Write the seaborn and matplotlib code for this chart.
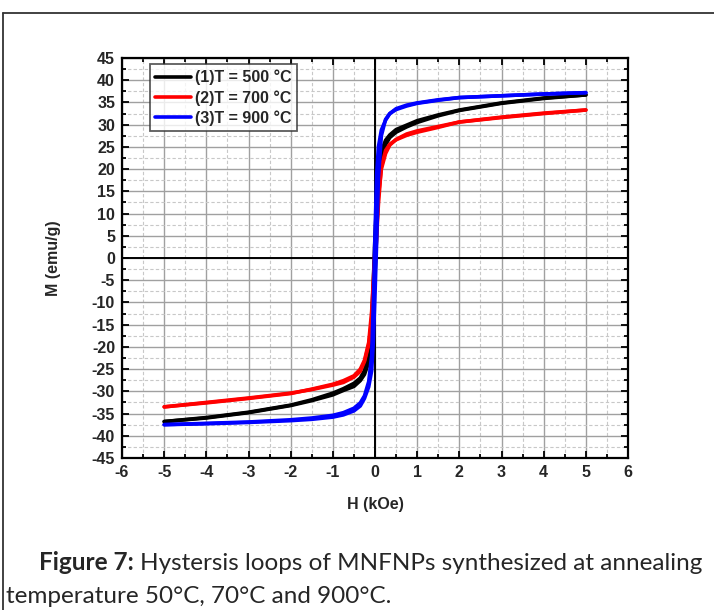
import pandas as pd
import matplotlib.pyplot as plt
import seaborn as sns
from matplotlib.ticker import MultipleLocator
from matplotlib.lines import Line2D


# field values (kOe), same grid for every branch
H = [-5, -4, -3, -2, -1.5, -1, -0.75, -0.5, -0.35, -0.25, -0.15, -0.08, -0.04,
     0, 0.04, 0.08, 0.15, 0.25, 0.35, 0.5, 0.75, 1, 1.5, 2, 3, 4, 5]

# lower branch (field going up) and upper branch (field going down)
M_500_up = [-36.8, -36.0, -34.8, -33.2, -32.1, -30.8, -29.8, -28.9, -27.6, -26.2, -23.5, -19.0, -12.0,
            -4.0, 6.0, 15.0, 21.5, 25.5, 27.1, 28.3, 29.5, 30.5, 32.0, 33.2, 34.8, 35.9, 36.7]
M_500_down = [-36.8, -35.9, -34.7, -33.1, -31.9, -30.4, -29.4, -28.2, -27.0, -25.3, -21.0, -14.0, -5.0,
              5.0, 13.0, 20.0, 24.0, 26.5, 27.7, 28.9, 29.9, 30.9, 32.2, 33.3, 34.9, 36.0, 36.7]

M_700_up = [-33.5, -32.5, -31.5, -30.4, -29.6, -28.6, -28.0, -26.8, -25.5, -23.3, -19.5, -14.0, -8.0,
            -2.0, 5.0, 12.0, 20.5, 24.2, 25.6, 26.6, 27.6, 28.3, 29.4, 30.6, 31.7, 32.6, 33.3]
M_700_down = [-33.5, -32.6, -31.6, -30.5, -29.5, -28.4, -27.6, -26.5, -25.0, -23.0, -19.0, -12.0, -5.0,
              2.0, 8.0, 14.0, 20.0, 23.5, 25.4, 26.7, 27.9, 28.6, 29.6, 30.6, 31.6, 32.5, 33.3]

M_900_up = [-37.5, -37.3, -37.0, -36.6, -36.3, -35.8, -35.3, -34.4, -33.3, -31.6, -29.0, -25.4, -19.0,
            -8.0, 4.0, 18.0, 27.5, 31.2, 32.5, 33.4, 34.2, 34.8, 35.5, 36.1, 36.5, 36.9, 37.2]
M_900_down = [-37.5, -37.2, -36.9, -36.4, -36.0, -35.4, -34.8, -33.8, -32.6, -31.0, -27.8, -22.0, -10.0,
              6.0, 19.0, 25.0, 28.8, 31.0, 32.5, 33.6, 34.4, 34.9, 35.6, 36.1, 36.5, 36.9, 37.2]

labels = ['(1)T = 500 °C', '(2)T = 700 °C', '(3)T = 900 °C']
colors = ['black', '#ff0000', '#0000ff']

caption_bold = 'Figure 7:'
caption_1 = 'Hystersis loops of MNFNPs synthesized at annealing'
caption_2 = 'temperature 50°C, 70°C and 900°C.'

branches = [(M_500_up, M_500_down), (M_700_up, M_700_down), (M_900_up, M_900_down)]

rows = []
for lab, (up, down) in zip(labels, branches):
    for h, m in zip(H, up):
        rows.append([h, m, lab, lab + ' up'])
    # the descending branch runs from +5 back to -5
    for h, m in zip(H[::-1], down[::-1]):
        rows.append([h, m, lab, lab + ' down'])
loops_df = pd.DataFrame(rows, columns=['H', 'M', 'sample', 'branch'])


sns.set_style('white')
plt.rcParams['font.family'] = ['Liberation Sans', 'DejaVu Sans']
plt.rcParams['axes.unicode_minus'] = False

fig = plt.figure(figsize=(7.14, 6.10), dpi=100)
ax = fig.add_axes([0.1709, 0.2492, 0.7087, 0.6557])

ax.set_xlim(-6, 6)
ax.set_ylim(-45, 45)

ax.xaxis.set_major_locator(MultipleLocator(1))
ax.xaxis.set_minor_locator(MultipleLocator(0.5))
ax.yaxis.set_major_locator(MultipleLocator(5))
ax.yaxis.set_minor_locator(MultipleLocator(2.5))

ax.grid(which='major', color='#a0a0a0', lw=1.0, ls='-', zorder=0)
ax.grid(which='minor', color='#c8c8c8', lw=0.8, ls=(0, (3, 2)), zorder=0)
ax.axhline(0, color='black', lw=1.4, zorder=1)
ax.axvline(0, color='black', lw=1.4, zorder=1)

sns.lineplot(
    data=loops_df,
    x='H',
    y='M',
    hue='sample',
    units='branch',
    estimator=None,
    sort=False,
    palette=colors,
    lw=2.6,
    legend=False,
    ax=ax,
    zorder=3
)

for sp in ax.spines.values():
    sp.set_color('black')
    sp.set_linewidth(1.6)

ax.tick_params(which='both', direction='in', top=True, right=True,
               bottom=True, left=True, color='black', width=1.3)
ax.tick_params(which='major', length=5, labelsize=11.5, pad=5)
ax.tick_params(which='minor', length=3)
ax.tick_params(axis='x', which='both', labeltop=False)
for t in ax.get_xticklabels() + ax.get_yticklabels():
    t.set_fontweight('bold')

ax.set_xlabel('H (kOe)', fontsize=11.5, fontweight='bold', labelpad=12)
ax.set_ylabel('M (emu/g)', fontsize=11.5, fontweight='bold', labelpad=22)

handles = [Line2D([0], [0], color=c, lw=2.6) for c in colors]
leg = ax.legend(handles, labels, loc='upper left', bbox_to_anchor=(0.055, 0.985),
                prop={'weight': 'bold', 'size': 11.5}, frameon=True, fancybox=False,
                handlelength=2.2, handletextpad=0.25, borderpad=0.35, labelspacing=0.3,
                borderaxespad=0)
leg.get_frame().set_edgecolor('#333333')
leg.get_frame().set_linewidth(1.3)

# page frame around figure and caption (left and top only)
fig.add_artist(Line2D([0.0045, 0.0045], [0.0, 0.979], color='#333333', lw=1.3))
fig.add_artist(Line2D([0.0045, 1.0], [0.979, 0.979], color='#333333', lw=1.3))

cap_font = ['Lato', 'DejaVu Sans']
cap_size = 17.5
t_bold = fig.text(0.0546, 0.0656, caption_bold, fontsize=cap_size, fontweight='bold',
                  family=cap_font, va='baseline')
fig.canvas.draw()
bb = t_bold.get_window_extent()
x_next = (bb.x1 + 6) / fig.bbox.width
fig.text(x_next, 0.0656, caption_1, fontsize=cap_size, family=cap_font, va='baseline')
fig.text(0.0084, 0.0115, caption_2, fontsize=cap_size, family=cap_font, va='baseline')

fig.savefig('out.png', dpi=100)
